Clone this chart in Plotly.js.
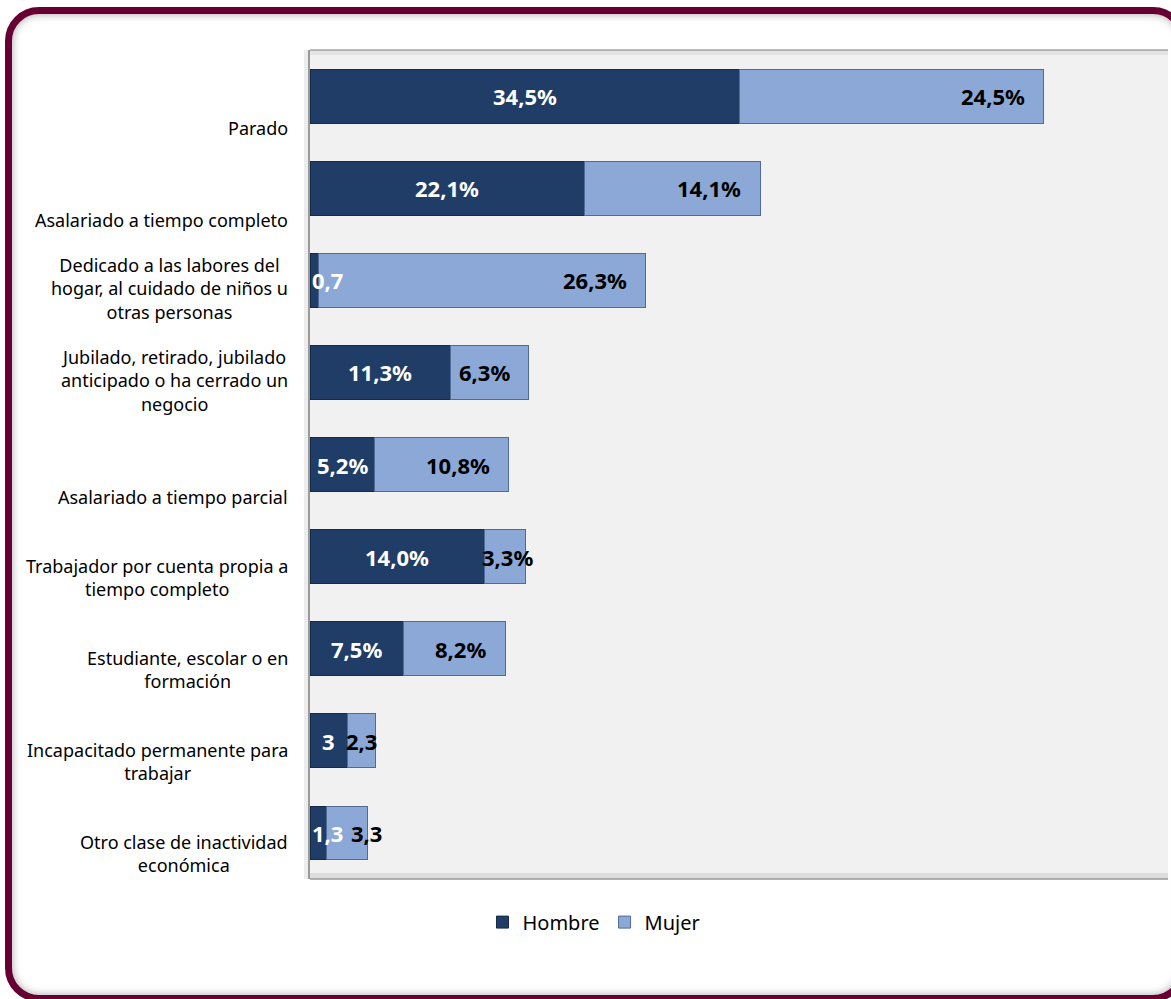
<!DOCTYPE html>
<html>
<head>
<meta charset="utf-8">
<script src="https://cdn.plot.ly/plotly-3.0.1.min.js"></script>
<style>
  html, body { margin: 0; padding: 0; width: 1171px; height: 999px; overflow: hidden; background: #ffffff; }
  #frame { position: absolute; left: 5px; top: 7px; width: 1182px; height: 995px; box-sizing: border-box;
           border: 7px solid #660033; border-radius: 34px; background: #ffffff;
           box-shadow: inset 0 0 9px rgba(0,0,0,0.35); z-index: 0; }
  #chart { position: absolute; left: 0; top: 0; width: 1171px; height: 999px; z-index: 1; }
</style>
</head>
<body>
<div id="frame"></div>
<div id="chart"></div>
<script>
const categories = [
  'Parado',
  'Asalariado a tiempo completo',
  'Dedicado a las labores del<br>hogar, al cuidado de niños u<br>otras personas',
  'Jubilado, retirado, jubilado<br>anticipado o ha cerrado un<br>negocio',
  'Asalariado a tiempo parcial',
  'Trabajador por cuenta propia a<br>tiempo completo',
  'Estudiante, escolar o en<br>formación',
  'Incapacitado permanente para<br>trabajar',
  'Otro clase de inactividad<br>económica'
];
const hombre = [34.5, 22.1, 0.7, 11.3, 5.2, 14.0, 7.5, 3, 1.3];
const mujer  = [24.5, 14.1, 26.3, 6.3, 10.8, 3.3, 8.2, 2.3, 3.3];
const hombreLabels = ['34,5%', '22,1%', '0,7', '11,3%', '5,2%', '14,0%', '7,5%', '3', '1,3'];
const mujerLabels  = ['24,5%', '14,1%', '26,3%', '6,3%', '10,8%', '3,3%', '8,2%', '2,3', '3,3'];

const W = 1171, H = 999;
const M = { l: 310, r: 3, t: 50, b: 120 };
const XMAX = 69;
const pxPerUnit = (W - M.l - M.r) / XMAX;

const LABEL_FONT = 'Noto Sans';
const ctx = document.createElement('canvas').getContext('2d');
ctx.font = 'bold 22px "' + LABEL_FONT + '"';
const tw = s => ctx.measureText(s).width;

const annotations = [];
// category labels (bottom-aligned below the bar centre, as in the reference)
categories.forEach(c => {
  annotations.push({
    xref: 'paper', x: 0, xanchor: 'right', xshift: -20,
    yref: 'y', y: c, yanchor: 'bottom', yshift: -46,
    text: c, align: 'center', showarrow: false,
    font: { family: LABEL_FONT, size: 18, color: '#000000' }
  });
});
// data labels: Hombre centred (kept off the axis), Mujer at inside end,
// pushed right so it starts inside its bar and clears the Hombre label
categories.forEach((c, i) => {
  const hw = hombre[i] * pxPerUnit, mw = mujer[i] * pxPerUnit;
  const ht = tw(hombreLabels[i]), mt = tw(mujerLabels[i]);
  const hLeft = Math.max(hw / 2 - ht / 2, 2);
  const hShift = hLeft - (hw / 2 - ht / 2);
  const hRight = hLeft + ht;
  annotations.push({ xref: 'x', x: hombre[i] / 2, xanchor: 'center', xshift: hShift, yref: 'y', y: c, yanchor: 'middle',
    text: hombreLabels[i], showarrow: false, font: { family: LABEL_FONT, size: 22, color: '#ffffff', weight: 'bold' } });
  const end = hw + mw;
  let mLeft = end - 17 - mt;
  mLeft = Math.max(mLeft, hw, hRight + 9);
  const mShift = (mLeft + mt) - end;
  annotations.push({ xref: 'x', x: hombre[i] + mujer[i], xanchor: 'right', xshift: mShift, yref: 'y', y: c, yanchor: 'middle',
    text: mujerLabels[i], showarrow: false, font: { family: LABEL_FONT, size: 22, color: '#000000', weight: 'bold' } });
});

const shapes = [
  // plot-area edge shading
  { type: 'rect', xref: 'paper', yref: 'paper', xsizemode: 'pixel', xanchor: 0, x0: -6, x1: 0, y0: 0, y1: 1,
    fillcolor: 'rgba(0,0,0,0.07)', line: { width: 0 }, layer: 'above' },
  { type: 'line', xref: 'paper', yref: 'paper', xsizemode: 'pixel', xanchor: 0, x0: -1, x1: -1, y0: 0, y1: 1,
    line: { color: '#9a9a9a', width: 2 }, layer: 'above' },
  { type: 'line', xref: 'paper', yref: 'paper', x0: 0, x1: 1, y0: 1, y1: 1,
    line: { color: '#a6a6a6', width: 1.5 }, layer: 'above' },
  { type: 'rect', xref: 'paper', yref: 'paper', ysizemode: 'pixel', yanchor: 1, x0: 0, x1: 1, y0: -5, y1: 0,
    fillcolor: 'rgba(0,0,0,0.05)', line: { width: 0 }, layer: 'above' },
  { type: 'rect', xref: 'paper', yref: 'paper', ysizemode: 'pixel', yanchor: 0, x0: 0, x1: 1, y0: 0, y1: 6,
    fillcolor: 'rgba(0,0,0,0.08)', line: { width: 0 }, layer: 'above' },
  { type: 'line', xref: 'paper', yref: 'paper', x0: 0, x1: 1, y0: 0, y1: 0,
    line: { color: '#9a9a9a', width: 1.5 }, layer: 'above' }
];

const traces = [
  { type: 'bar', orientation: 'h', name: 'Hombre', y: categories, x: hombre,
    marker: { color: '#1f3d66', line: { color: '#142a47', width: 1 } }, hoverinfo: 'none' },
  { type: 'bar', orientation: 'h', name: 'Mujer', y: categories, x: mujer,
    marker: { color: '#8ca8d6', line: { color: '#4f6b96', width: 1 } }, hoverinfo: 'none' }
];

const layout = {
  width: W, height: H,
  margin: M,
  paper_bgcolor: 'rgba(0,0,0,0)',
  plot_bgcolor: '#f1f1f1',
  barmode: 'stack',
  bargap: 0.415,
  font: { family: LABEL_FONT, size: 18, color: '#000000' },
  xaxis: { range: [0, XMAX], showticklabels: false, showgrid: false, zeroline: false, showline: false, ticks: '', fixedrange: true },
  yaxis: { type: 'category', autorange: 'reversed', showticklabels: false, showgrid: false, zeroline: false, showline: false, ticks: '', fixedrange: true },
  showlegend: true,
  legend: { orientation: 'h', traceorder: 'normal', x: 0.331, xanchor: 'center', y: -0.052, yanchor: 'middle',
            font: { family: LABEL_FONT, size: 20, color: '#000000' }, bgcolor: 'rgba(0,0,0,0)', itemclick: false, itemdoubleclick: false },
  annotations: annotations,
  shapes: shapes
};

Plotly.newPlot('chart', traces, layout, { displayModeBar: false, staticPlot: true });
</script>
</body>
</html>
